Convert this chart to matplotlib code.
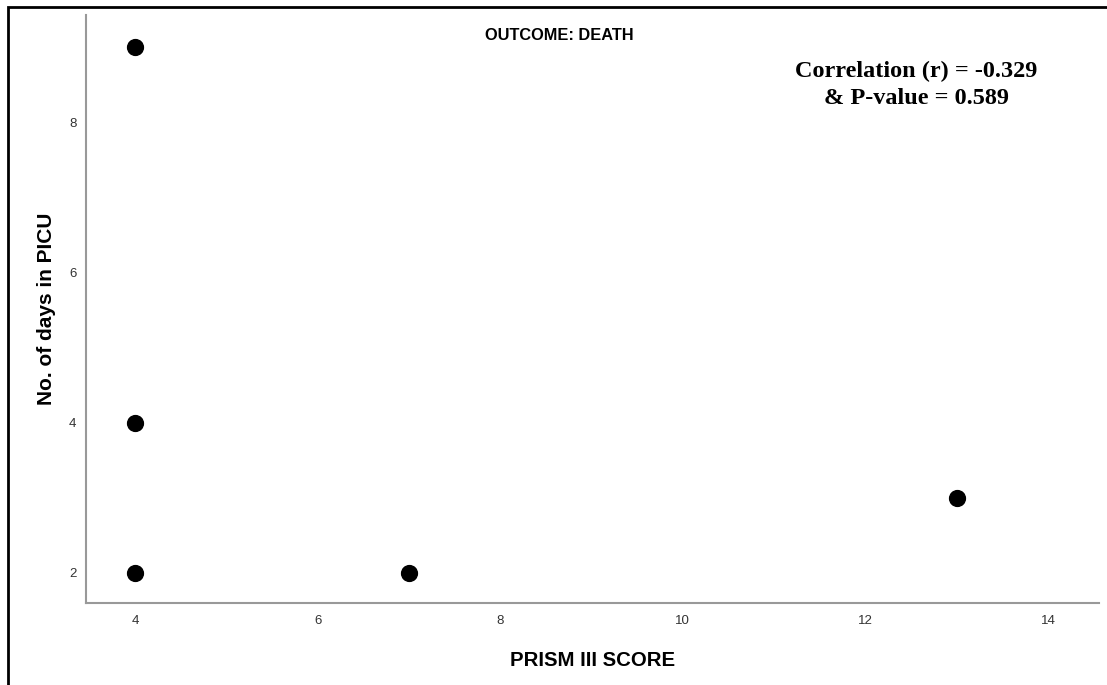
import matplotlib.pyplot as plt
from matplotlib import font_manager as fm
from matplotlib.patches import Rectangle

# data
prism_score = [4, 4, 4, 7, 13]
picu_days = [9, 4, 2, 2, 3]
x_ticks = [4, 6, 8, 10, 12, 14]
y_ticks = [2, 4, 6, 8]

# narrow bold font for the little heading, if the system has one
narrow = [f for f in fm.findSystemFonts() if 'SansNarrow-Bold.' in f]
if narrow:
    head_font = fm.FontProperties(fname=narrow[0], size=14)
else:
    head_font = fm.FontProperties(family='Liberation Sans', weight='bold', size=11.8)

W, H = 1107, 685
fig = plt.figure(figsize=(W / 100, H / 100), dpi=100)
ax = fig.add_axes([86 / W, 1 - 603 / H, (1099 - 86) / W, (603 - 15) / H])

ax.scatter(prism_score, picu_days, s=130, color='black', zorder=3)

ax.set_xlim(3.46, 14.56)
ax.set_ylim(1.6, 9.43)
ax.set_xticks(x_ticks)
ax.set_yticks(y_ticks)
ax.tick_params(length=0, labelsize=9.5, colors='#333333')
ax.tick_params(axis='x', pad=9)
ax.tick_params(axis='y', pad=7)
for lab in ax.get_xticklabels() + ax.get_yticklabels():
    lab.set_family('Liberation Sans')

for side in ['top', 'right']:
    ax.spines[side].set_visible(False)
for side in ['left', 'bottom']:
    ax.spines[side].set_color('#999999')
    ax.spines[side].set_linewidth(1.5)

ax.set_xlabel('PRISM III SCORE', fontsize=14.7, fontweight='bold',
              family='Liberation Sans', labelpad=17)
ax.set_ylabel('No. of days in PICU', fontsize=15, fontweight='bold',
              family='Liberation Sans', labelpad=9.5)

fig.text(559 / W, 1 - 35 / H, 'OUTCOME: DEATH', ha='center', va='center',
         fontproperties=head_font)
fig.text(916 / W, 1 - 85 / H, 'Correlation (r) = -0.329\n& P-value = 0.589',
         ha='center', va='center', fontsize=17.5, fontweight='bold',
         family='Liberation Serif', linespacing=1.32)

# outer frame of the cropped screenshot
fig.patches.append(Rectangle((8 / W, -0.1), 1.2, 1 - 7 / H + 0.1,
                             transform=fig.transFigure, fill=False,
                             edgecolor='black', linewidth=2))

fig.savefig('out.png', dpi=100)
